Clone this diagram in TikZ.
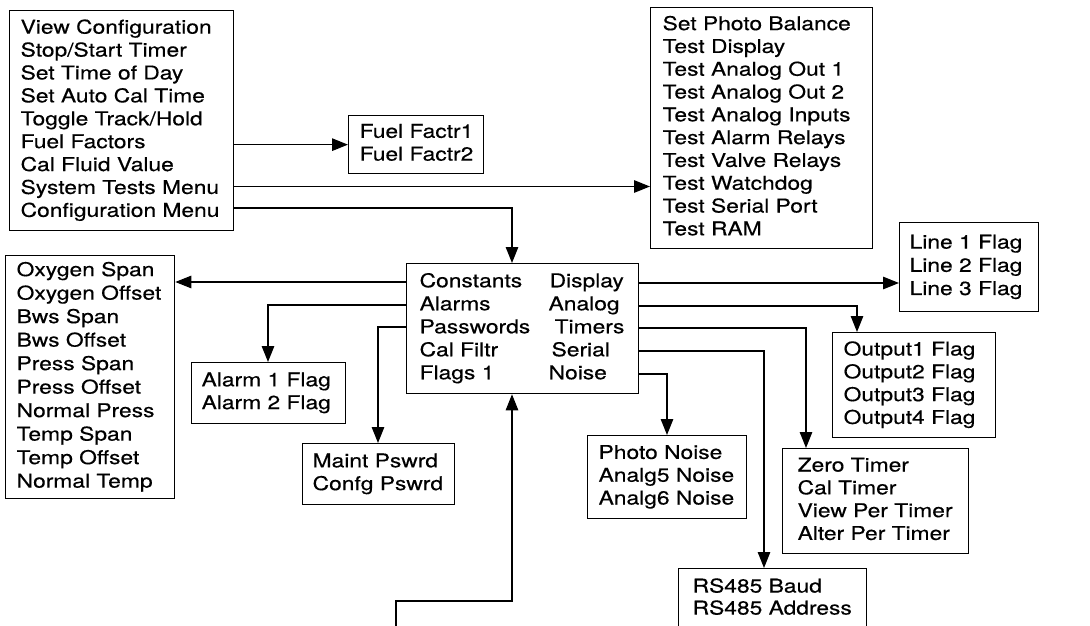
\documentclass[tikz,border=0pt]{standalone}
\usepackage{fontspec}
\setmainfont[FakeStretch=1.2,FakeBold=0.4]{TeX Gyre Heros}
\usetikzlibrary{arrows.meta}
\newcommand\lines[2][22.8]{{\fontsize{19}{#1}\selectfont\begin{tabular}{@{}l@{}}#2\end{tabular}}}
\begin{document}
\begin{tikzpicture}[x=1pt,y=-1pt,
  box/.style={draw, line width=1.3pt, anchor=north west, inner ysep=0pt, align=left,
    font=\fontsize{19}{22.8}\selectfont},
  arr/.style={line width=1.2pt, -{Triangle[length=16pt,width=12.5pt]}},
  ln/.style={line width=1.2pt}]
\path[use as bounding box] (0,0) rectangle (1090,626);
\clip (0,0) rectangle (1090,626);

\node[box, inner xsep=11pt, text width=202pt, minimum height=220pt] (menu) at (9,10)
  {\lines[22.9]{View Configuration\\Stop/Start Timer\\Set Time of Day\\Set Auto Cal Time\\Toggle Track/Hold\\Fuel Factors\\Cal Fluid Value\\System Tests Menu\\Configuration Menu}};
\node[box, inner xsep=11pt, text width=113pt, minimum height=58pt] (fuel) at (348,115)
  {\lines{Fuel Factr1\\Fuel Factr2}};
\node[box, inner xsep=12pt, text width=198pt, minimum height=241pt] (tests) at (650,7)
  {\lines{Set Photo Balance\\Test Display\\Test Analog Out 1\\Test Analog Out 2\\Test Analog Inputs\\Test Alarm Relays\\Test Valve Relays\\Test Watchdog\\Test Serial Port\\Test RAM}};
\node[box, inner xsep=10pt, text width=119pt, minimum height=89pt] (lines) at (899,222)
  {\lines[23.2]{Line 1 Flag\\Line 2 Flag\\Line 3 Flag}};
\node[box, inner xsep=13pt, text width=206pt, minimum height=130pt] (center) at (406,263)
  {{\fontsize{19}{23}\selectfont\begin{tabular}{@{}p{129pt}@{}l@{}}
   Constants & \hspace*{1pt}Display\\
   Alarms & Analog\\
   Passwords & \hspace*{6pt}Timers\\
   Cal Filtr & \hspace*{3pt}Serial\\
   Flags 1 & Noise
   \end{tabular}}};
\node[box, inner xsep=11pt, text width=147pt, minimum height=243pt] (oxygen) at (5,255)
  {\lines[23.5]{Oxygen Span\\Oxygen Offset\\Bws Span\\Bws Offset\\Press Span\\Press Offset\\Normal Press\\Temp Span\\Temp Offset\\Normal Temp}};
\node[box, inner xsep=10pt, text width=134pt, minimum height=61pt] (alarm) at (191,362)
  {\lines{Alarm 1 Flag\\Alarm 2 Flag}};
\node[box, inner xsep=10pt, text width=132pt, minimum height=61pt] (maint) at (302,443)
  {\lines{Maint Pswrd\\Confg Pswrd}};
\node[box, inner xsep=11pt, text width=137pt, minimum height=83pt] (photo) at (587,435)
  {\lines{Photo Noise\\Analg5 Noise\\Analg6 Noise}};
\node[box, inner xsep=11pt, text width=141pt, minimum height=105pt] (output) at (832,332)
  {\lines{Output1 Flag\\Output2 Flag\\Output3 Flag\\Output4 Flag}};
\node[box, inner xsep=15pt, text width=156pt, minimum height=105pt] (zero) at (782,448)
  {\lines{Zero Timer\\Cal Timer\\View Per Timer\\Alter Per Timer}};
\node[box, inner xsep=14pt, text width=160pt, minimum height=61pt] (rs) at (678,568)
  {\lines[22]{RS485 Baud\\RS485 Address}};

% from main menu
\draw[arr] (menu.east |- fuel.west) -- (fuel.west);
\draw[arr] ([yshift=-176.5pt]menu.north east) -- ([yshift=-179.5pt]tests.north west);
\draw[arr] ([yshift=-198pt]menu.north east) -| ([xshift=106pt]center.north west);

% left side of configuration menu
\coordinate (cL1) at ([yshift=-19pt]center.north west);
\coordinate (cL2) at ([yshift=-42pt]center.north west);
\coordinate (cL3) at ([yshift=-64pt]center.north west);
\draw[arr] (cL1) -- (cL1 -| oxygen.east);
\draw[arr] (cL2) -| ([xshift=77pt]alarm.north west);
\draw[arr] (cL3) -| ([xshift=76pt]maint.north west);

% right side of configuration menu
\coordinate (cR1) at ([yshift=-20pt]center.north east);
\coordinate (cR2) at ([yshift=-43pt]center.north east);
\coordinate (cR3) at ([yshift=-65pt]center.north east);
\coordinate (cR4) at ([yshift=-88pt]center.north east);
\coordinate (cR5) at ([yshift=-111pt]center.north east);
\draw[arr] (cR1) -- (cR1 -| lines.west);
\draw[arr] (cR2) -| ([xshift=25pt]output.north west);
\draw[arr] (cR3) -| ([xshift=24pt]zero.north west);
\draw[arr] (cR4) -| ([xshift=86pt]rs.north west);
\draw[arr] (cR5) -| ([xshift=80pt]photo.north west);

% incoming line from below
\coordinate (bin) at (396,640);
\coordinate (bturn) at (396,601);
\draw[arr] (bin) -- (bturn) -| ([xshift=106pt]center.south west);
\end{tikzpicture}
\end{document}
